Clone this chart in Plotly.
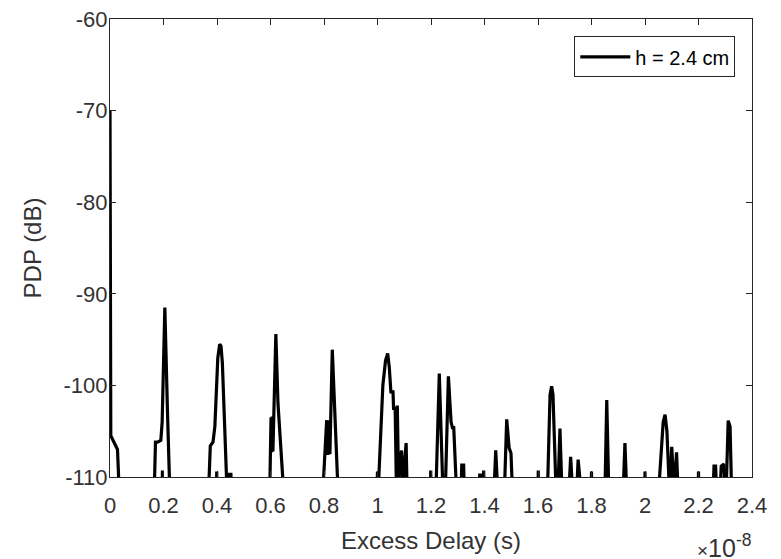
import plotly.graph_objects as go

# Excess delay in units of 1e-8 s, PDP in dB; None separates segments
delay = [
    0, 0, 0.003, 0.028, 0.035, None,
    0.165, 0.170, 0.178, 0.190, 0.195, 0.205, 0.215, 0.224, None,
    0.195, 0.196, 0.197, None,
    0.368, 0.375, 0.385, 0.392, 0.403, 0.410, 0.415, 0.420, 0.438, None,
    0.398, 0.399, 0.400, None,
    0.440, 0.443, 0.452, 0.455, None,
    0.597, 0.600, 0.602, 0.604, 0.606, 0.609, 0.612, 0.620, 0.628, 0.650, None,
    0.795, 0.805, 0.810, 0.814, 0.818, 0.822, 0.831, 0.853, None,
    0.997, 1.000, 1.003, None,
    1.002, 1.020, 1.030, 1.038, 1.044, 1.050, 1.058, 1.060, 1.066, 1.070, 1.074, 1.079,
    1.085, 1.090, 1.095, 1.102, 1.107, 1.111, None,
    1.198, 1.199, 1.200, None,
    1.218, 1.231, 1.244, 1.254, 1.265, 1.275, 1.280, 1.285, 1.296, None,
    1.312, 1.315, 1.322, 1.325, None,
    1.380, 1.382, 1.390, 1.392, None,
    1.395, 1.397, 1.399, None,
    1.435, 1.442, 1.450, None,
    1.474, 1.483, 1.492, 1.499, 1.505, None,
    1.600, 1.601, 1.602, None,
    1.635, 1.645, 1.651, 1.656, 1.668, 1.674, 1.682, 1.690, None,
    1.715, 1.722, 1.730, None,
    1.744, 1.750, 1.756, 1.760, None,
    1.799, 1.800, 1.801, None,
    1.850, 1.857, 1.865, None,
    1.918, 1.925, 1.932, None,
    1.999, 2.000, 2.001, None,
    2.050, 2.068, 2.075, 2.082, 2.092, 2.095, 2.100, 2.106, 2.112, 2.118, 2.124, None,
    2.199, 2.200, 2.201, None,
    2.254, 2.258, 2.264, 2.268, None,
    2.280, 2.285, 2.295, 2.300, None,
    2.303, 2.311, 2.318, 2.324,
]
pdp = [
    -70, -70, -105.5, -107, -112, None,
    -112, -106.2, -106.2, -106.0, -104, -91.5, -103, -112, None,
    -112, -109.3, -112, None,
    -112, -106.6, -106.2, -104.5, -97, -95.5, -95.7, -97.5, -112, None,
    -112, -109.4, -112, None,
    -112, -109.7, -109.7, -112, None,
    -112, -107.5, -103.5, -107.3, -103.4, -107.2, -104, -94.4, -102, -112, None,
    -112, -107, -103.8, -107.6, -103.8, -107.5, -96.1, -112, None,
    -112, -109.4, -112, None,
    -112, -100, -97.3, -96.5, -98, -100.7, -100.7, -102.5, -102.5, -110, -102.2, -111,
    -108, -107.1, -111, -108, -106.3, -112, None,
    -112, -109.3, -112, None,
    -112, -98.7, -111, -111, -99.0, -104, -104.6, -104.6, -112, None,
    -112, -108.7, -108.7, -112, None,
    -112, -109.8, -109.8, -112, None,
    -112, -109.3, -112, None,
    -112, -107.1, -112, None,
    -112, -103.7, -106.8, -107.4, -112, None,
    -112, -109.3, -112, None,
    -112, -101, -100.1, -101, -112, -112, -104.7, -112, None,
    -112, -107.8, -112, None,
    -112, -108.1, -110, -112, None,
    -112, -109.4, -112, None,
    -112, -101.6, -112, None,
    -112, -106.3, -112, None,
    -112, -109.4, -112, None,
    -112, -104, -103.2, -105, -112, -110, -106.7, -110, -110, -107.3, -112, None,
    -112, -109.4, -112, None,
    -112, -108.8, -108.8, -112, None,
    -112, -108.8, -108.6, -112, None,
    -112, -103.85, -104.5, -112,
]

x_ticks = [0, 0.2, 0.4, 0.6, 0.8, 1.0, 1.2, 1.4, 1.6, 1.8, 2.0, 2.2, 2.4]
x_labels = ["0", "0.2", "0.4", "0.6", "0.8", "1", "1.2", "1.4", "1.6", "1.8", "2", "2.2", "2.4"]
y_ticks = [-110, -100, -90, -80, -70, -60]
y_labels = ["-110", "-100", "-90", "-80", "-70", "-60"]

FONT = "Liberation Sans, Arial, sans-serif"
AX = "#262626"
TXT = "#333333"

fig = go.Figure()
fig.add_trace(go.Scatter(
    x=delay, y=pdp, mode="lines", name="h = 2.4 cm",
    line=dict(color="black", width=3.2), connectgaps=False,
))

axis_common = dict(
    showline=True, linecolor=AX, linewidth=1, mirror="ticks",
    ticks="inside", ticklen=6, tickcolor=AX, tickwidth=1,
    showgrid=False, zeroline=False, automargin=False,
    ticklabeloverflow="allow",
    tickfont=dict(family=FONT, size=22, color=TXT),
)

# the page body has an 8 px margin, so the figure is drawn 8 px in from the top-left
fig.update_layout(
    width=773, height=551,
    margin=dict(l=102, r=29, t=11, b=82),
    paper_bgcolor="white", plot_bgcolor="white",
    font=dict(family=FONT, color=TXT),
    xaxis=dict(range=[0, 2.4], tickvals=x_ticks, ticktext=x_labels,
               ticklabelstandoff=9,
               title=dict(text="Excess Delay (s)", font=dict(family=FONT, size=24, color=TXT), standoff=14),
               **axis_common),
    yaxis=dict(range=[-110, -60], tickvals=y_ticks, ticktext=y_labels,
               ticklabelstandoff=-3,
               title=dict(text="PDP (dB)", font=dict(family=FONT, size=24, color=TXT), standoff=15),
               **axis_common),
    showlegend=True,
    legend=dict(x=0.974, y=0.962, xanchor="right", yanchor="top",
                bgcolor="white", bordercolor=AX, borderwidth=1,
                itemwidth=50,
                font=dict(family=FONT, size=20, color="black")),
    annotations=[dict(
        text="<span style='font-size:19px'>×</span>10<sup>-8</sup>",
        x=1.0016, y=-0.1115, xref="paper", yref="paper",
        xanchor="right", yanchor="top", showarrow=False,
        font=dict(family=FONT, size=25, color=TXT),
    )],
)

fig.write_html("out.html")
